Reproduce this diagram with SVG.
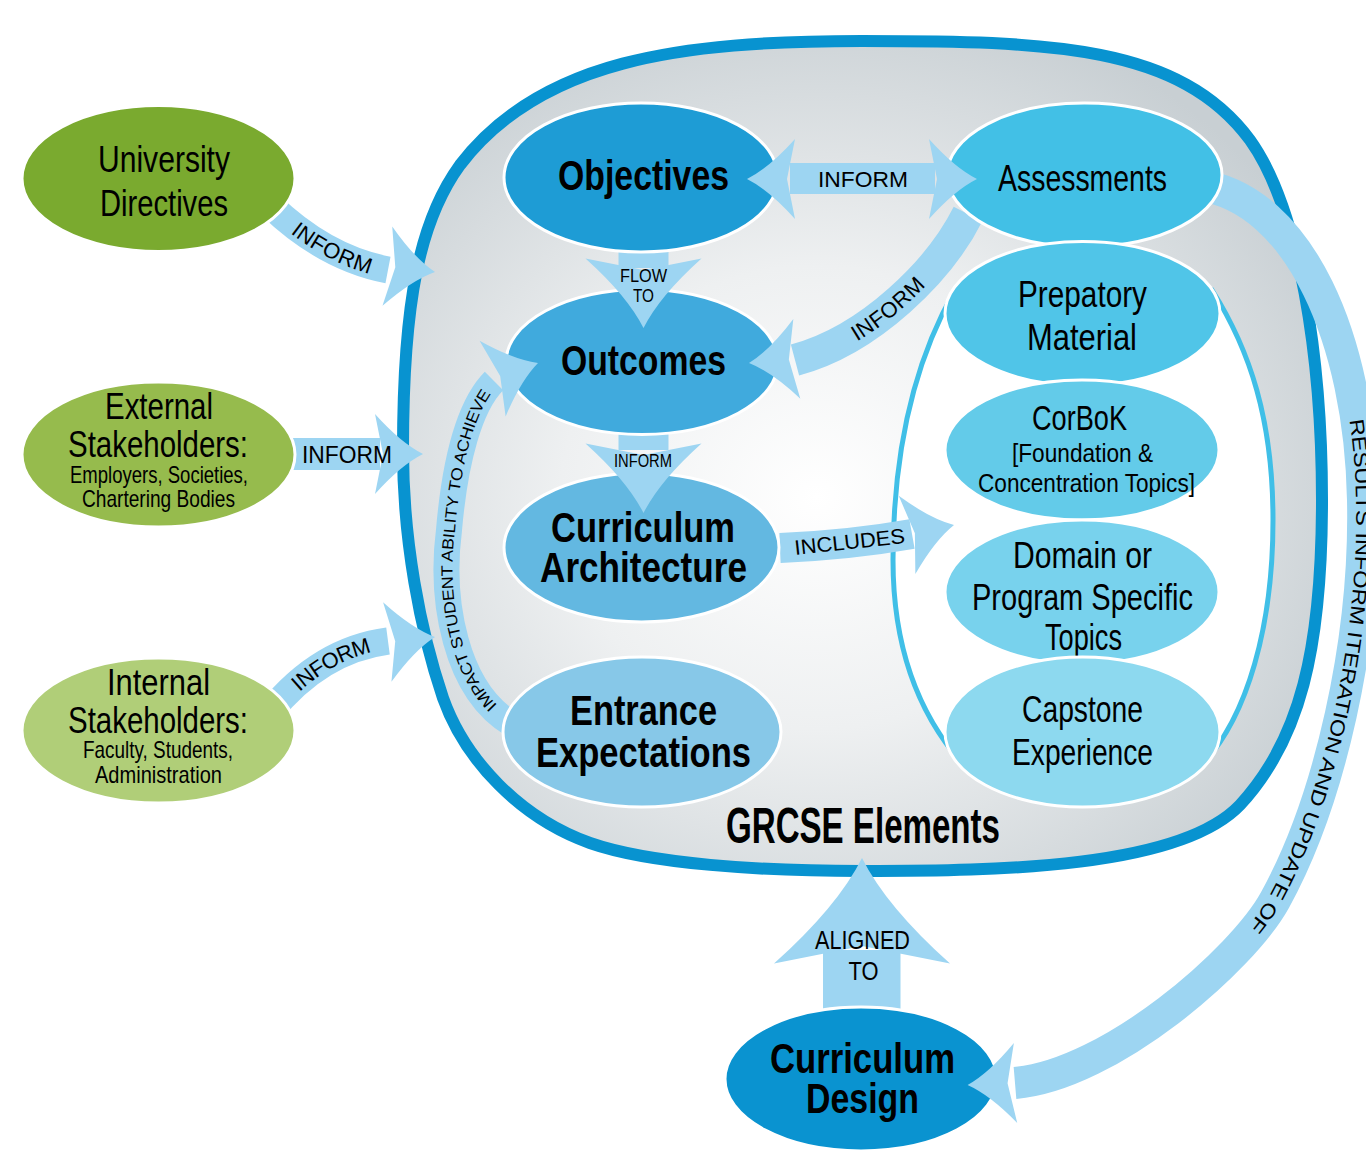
<svg xmlns="http://www.w3.org/2000/svg" width="1366" height="1151" viewBox="0 0 1366 1151">
<defs>
<radialGradient id="bg" cx="0.45" cy="0.55" r="0.62">
<stop offset="0" stop-color="#ffffff"/>
<stop offset="0.45" stop-color="#eef0f1"/>
<stop offset="1" stop-color="#c8cfd3"/>
</radialGradient>
<path id="head" d="M0,0 Q-22,-11 -48,-40 L-40,0 L-48,40 Q-22,11 0,0 Z"/>
<path id="pUniv" d="M270,205 Q325,258 388,270"/>
<path id="pInt" d="M270,712 Q320,650 388,641"/>
<path id="pAO" d="M795,360 C870,340 940,270 968,214"/>
<path id="pImpact" d="M512,724 C455,690 440,600 449,530 C455,460 470,405 494,381"/>
<path id="pRes" d="M1200,185 C1300,200 1360,340 1363,500 C1366,640 1330,800 1275,900 C1242,960 1110,1075 1015,1083"/>
</defs>
<style>
.t{font-family:"Liberation Sans",Arial,sans-serif;fill:#000;text-anchor:middle}
.b{font-weight:bold}
.node{stroke:#fff;stroke-width:3}
.arr{fill:#9dd5f2}
.band{fill:none;stroke:#9dd5f2}
.lbl{font-family:"Liberation Sans",Arial,sans-serif;fill:#000}
</style>

<g id="container">
<path d="M862,41 C1050,41 1180,45 1250,140 C1300,210 1322,360 1322,500 C1322,650 1300,740 1240,805 C1180,868 1000,871 862,871 C760,871 650,864 590,843 C520,818 465,760 443,698 C420,630 403,540 403,450 C403,300 420,220 460,165 C540,60 680,41 862,41 Z" fill="url(#bg)" stroke="#0893d0" stroke-width="12"/>
<path d="M955,290 C915,360 893,450 893,560 C893,650 920,720 970,772 L1195,772 C1250,720 1273,620 1273,520 C1273,420 1250,350 1212,290 Z" fill="#fff" stroke="#40bfe7" stroke-width="5"/>
</g>

<g id="connector-bands">
<use href="#pRes" class="band" stroke-width="32"/>
<use href="#pAO" class="band" stroke-width="32"/>
<use href="#pImpact" class="band" stroke-width="26"/>
<use href="#pUniv" class="band" stroke-width="27"/>
<use href="#pInt" class="band" stroke-width="27"/>
<path d="M780,548 Q850,545 912,534" class="band" stroke-width="30"/>
<rect x="618.5" y="248" width="50" height="20" class="arr"/>
<rect x="618.5" y="430" width="50" height="20" class="arr"/>
<rect x="823" y="950" width="77.5" height="62" class="arr"/>
<rect x="290" y="438" width="90" height="32" class="arr"/>
<text class="lbl" font-size="20" dy="7"><textPath href="#pRes" startOffset="300" textLength="532" lengthAdjust="spacingAndGlyphs">RESULTS INFORM ITERATION AND UPDATE OF</textPath></text>
<text class="lbl" font-size="16" dy="6"><textPath href="#pImpact" startOffset="24" textLength="336" lengthAdjust="spacingAndGlyphs">IMPACT STUDENT ABILITY TO ACHIEVE</textPath></text>
</g>

<g id="node-university">
<ellipse cx="158.5" cy="178.5" rx="136.5" ry="73" fill="#7aaa2f" class="node"/>
<text class="t" x="164" y="172" font-size="37" textLength="132" lengthAdjust="spacingAndGlyphs">University</text>
<text class="t" x="164" y="216" font-size="37" textLength="128" lengthAdjust="spacingAndGlyphs">Directives</text>
</g>
<g id="node-external">
<ellipse cx="158.5" cy="454.5" rx="136.5" ry="72.5" fill="#96bb4d" class="node"/>
<text class="t" x="159" y="419" font-size="37" textLength="108" lengthAdjust="spacingAndGlyphs">External</text>
<text class="t" x="158" y="457" font-size="37" textLength="180" lengthAdjust="spacingAndGlyphs">Stakeholders:</text>
<text class="t" x="159" y="483" font-size="24" textLength="178" lengthAdjust="spacingAndGlyphs">Employers, Societies,</text>
<text class="t" x="158.5" y="507" font-size="24" textLength="153" lengthAdjust="spacingAndGlyphs">Chartering Bodies</text>
</g>
<g id="node-internal">
<ellipse cx="158.5" cy="730.5" rx="136.5" ry="72.5" fill="#b0ce78" class="node"/>
<text class="t" x="158.5" y="695" font-size="37" textLength="103" lengthAdjust="spacingAndGlyphs">Internal</text>
<text class="t" x="158" y="733" font-size="37" textLength="180" lengthAdjust="spacingAndGlyphs">Stakeholders:</text>
<text class="t" x="158" y="758" font-size="24" textLength="150" lengthAdjust="spacingAndGlyphs">Faculty, Students,</text>
<text class="t" x="158.5" y="783" font-size="24" textLength="127" lengthAdjust="spacingAndGlyphs">Administration</text>
</g>
<g id="node-objectives">
<ellipse cx="641" cy="177.5" rx="137" ry="74.5" fill="#1e9cd5" class="node"/>
<text class="t b" x="643.5" y="190" font-size="42" textLength="171" lengthAdjust="spacingAndGlyphs">Objectives</text>
</g>
<g id="node-outcomes">
<ellipse cx="642" cy="362" rx="136" ry="72.5" fill="#40aadd" class="node"/>
<text class="t b" x="643.5" y="375" font-size="42" textLength="165" lengthAdjust="spacingAndGlyphs">Outcomes</text>
</g>
<g id="node-curriculum-architecture">
<ellipse cx="641.5" cy="547.5" rx="137.5" ry="74.5" fill="#63b8e1" class="node"/>
<text class="t b" x="643" y="542" font-size="42" textLength="184" lengthAdjust="spacingAndGlyphs">Curriculum</text>
<text class="t b" x="643.5" y="582" font-size="42" textLength="207" lengthAdjust="spacingAndGlyphs">Architecture</text>
</g>
<g id="node-entrance">
<ellipse cx="642" cy="732" rx="139" ry="75" fill="#87c8e8" class="node"/>
<text class="t b" x="643.5" y="725" font-size="42" textLength="147" lengthAdjust="spacingAndGlyphs">Entrance</text>
<text class="t b" x="643.5" y="767" font-size="42" textLength="215" lengthAdjust="spacingAndGlyphs">Expectations</text>
</g>
<g id="node-assessments">
<ellipse cx="1084.5" cy="175" rx="137.5" ry="72" fill="#42c0e6" class="node"/>
<text class="t" x="1082.5" y="191" font-size="36" textLength="169" lengthAdjust="spacingAndGlyphs">Assessments</text>
</g>
<g id="node-prepatory">
<ellipse cx="1082.5" cy="313.5" rx="137.5" ry="72" fill="#50c5e8" class="node"/>
<text class="t" x="1082.5" y="307" font-size="36" textLength="129" lengthAdjust="spacingAndGlyphs">Prepatory</text>
<text class="t" x="1082" y="350" font-size="36" textLength="110" lengthAdjust="spacingAndGlyphs">Material</text>
</g>
<g id="node-corbok">
<ellipse cx="1082" cy="450" rx="137" ry="70" fill="#63cbe9" class="node"/>
<text class="t" x="1079.5" y="430" font-size="35" textLength="95" lengthAdjust="spacingAndGlyphs">CorBoK</text>
<text class="t" x="1082.5" y="462" font-size="26" textLength="141" lengthAdjust="spacingAndGlyphs">[Foundation &amp;</text>
<text class="t" x="1086.5" y="492" font-size="26" textLength="217" lengthAdjust="spacingAndGlyphs">Concentration Topics]</text>
</g>
<g id="node-domain">
<ellipse cx="1082" cy="592" rx="137" ry="72" fill="#78d2ed" class="node"/>
<text class="t" x="1082.5" y="568" font-size="36" textLength="139" lengthAdjust="spacingAndGlyphs">Domain or</text>
<text class="t" x="1082.5" y="610" font-size="36" textLength="221" lengthAdjust="spacingAndGlyphs">Program Specific</text>
<text class="t" x="1083.5" y="650" font-size="36" textLength="77" lengthAdjust="spacingAndGlyphs">Topics</text>
</g>
<g id="node-capstone">
<ellipse cx="1082.5" cy="732" rx="137.5" ry="75" fill="#8dd9ef" class="node"/>
<text class="t" x="1082.5" y="722" font-size="36" textLength="121" lengthAdjust="spacingAndGlyphs">Capstone</text>
<text class="t" x="1082.5" y="765" font-size="36" textLength="141" lengthAdjust="spacingAndGlyphs">Experience</text>
</g>
<g id="label-grcse">
<text class="t b" x="863" y="843" font-size="50" textLength="274" lengthAdjust="spacingAndGlyphs">GRCSE Elements</text>
</g>
<g id="node-curriculum-design">
<ellipse cx="861" cy="1079" rx="136" ry="72" fill="#0a93d0" class="node"/>
<text class="t b" x="862.5" y="1073" font-size="42" textLength="185" lengthAdjust="spacingAndGlyphs">Curriculum</text>
<text class="t b" x="862.5" y="1113" font-size="42" textLength="113" lengthAdjust="spacingAndGlyphs">Design</text>
</g>

<g id="connectors">
<!-- Objectives <-> Assessments -->
<rect x="790" y="163" width="145" height="31" class="arr"/>
<use href="#head" class="arr" transform="translate(977,179)"/>
<use href="#head" class="arr" transform="translate(747,179) rotate(180)"/>
<text class="lbl" x="863" y="187" font-size="22" text-anchor="middle" textLength="90" lengthAdjust="spacingAndGlyphs">INFORM</text>
<!-- Flow to -->
<use href="#head" class="arr" transform="translate(643.5,328) rotate(90) scale(1.45)"/>
<text class="lbl" x="643.5" y="282" font-size="18" text-anchor="middle" textLength="47" lengthAdjust="spacingAndGlyphs">FLOW</text>
<text class="lbl" x="643.5" y="302" font-size="18" text-anchor="middle" textLength="21" lengthAdjust="spacingAndGlyphs">TO</text>
<!-- Outcomes -> Curriculum Architecture -->
<use href="#head" class="arr" transform="translate(643.5,513) rotate(90) scale(1.45)"/>
<text class="lbl" x="643" y="467" font-size="18" text-anchor="middle" textLength="58" lengthAdjust="spacingAndGlyphs">INFORM</text>
<!-- Includes -->
<use href="#head" class="arr" transform="translate(954,525) rotate(-12)"/>
<text class="lbl" x="850.5" y="549" font-size="21" text-anchor="middle" textLength="111" lengthAdjust="spacingAndGlyphs" transform="rotate(-6.2 850.5 549)">INCLUDES</text>
<!-- Assessments -> Outcomes -->
<use href="#head" class="arr" transform="translate(749,363) rotate(175)"/>
<text class="lbl" font-size="22" dy="8" text-anchor="middle"><textPath href="#pAO" startOffset="46%">INFORM</textPath></text>
<!-- Impact -->
<use href="#head" class="arr" transform="translate(538,363) rotate(-19)"/>
<!-- Results -->
<use href="#head" class="arr" transform="translate(967.6,1085) rotate(177.6)"/>
<!-- University -->
<use href="#head" class="arr" transform="translate(435,272) rotate(7)"/>
<text class="lbl" font-size="22" dy="8" text-anchor="middle"><textPath href="#pUniv" startOffset="56%">INFORM</textPath></text>
<!-- External -->
<use href="#head" class="arr" transform="translate(423,454)"/>
<text class="lbl" x="347" y="463" font-size="23" text-anchor="middle" textLength="90" lengthAdjust="spacingAndGlyphs">INFORM</text>
<!-- Internal -->
<use href="#head" class="arr" transform="translate(435,637) rotate(-6)"/>
<text class="lbl" font-size="22" dy="8" text-anchor="middle"><textPath href="#pInt" startOffset="56%">INFORM</textPath></text>
<!-- Aligned to -->
<use href="#head" class="arr" transform="translate(862,858) rotate(-90) scale(2.2)"/>
<text class="lbl" x="862.5" y="949" font-size="26" text-anchor="middle" textLength="95" lengthAdjust="spacingAndGlyphs">ALIGNED</text>
<text class="lbl" x="863.5" y="980" font-size="26" text-anchor="middle" textLength="30" lengthAdjust="spacingAndGlyphs">TO</text>
</g>
</svg>
